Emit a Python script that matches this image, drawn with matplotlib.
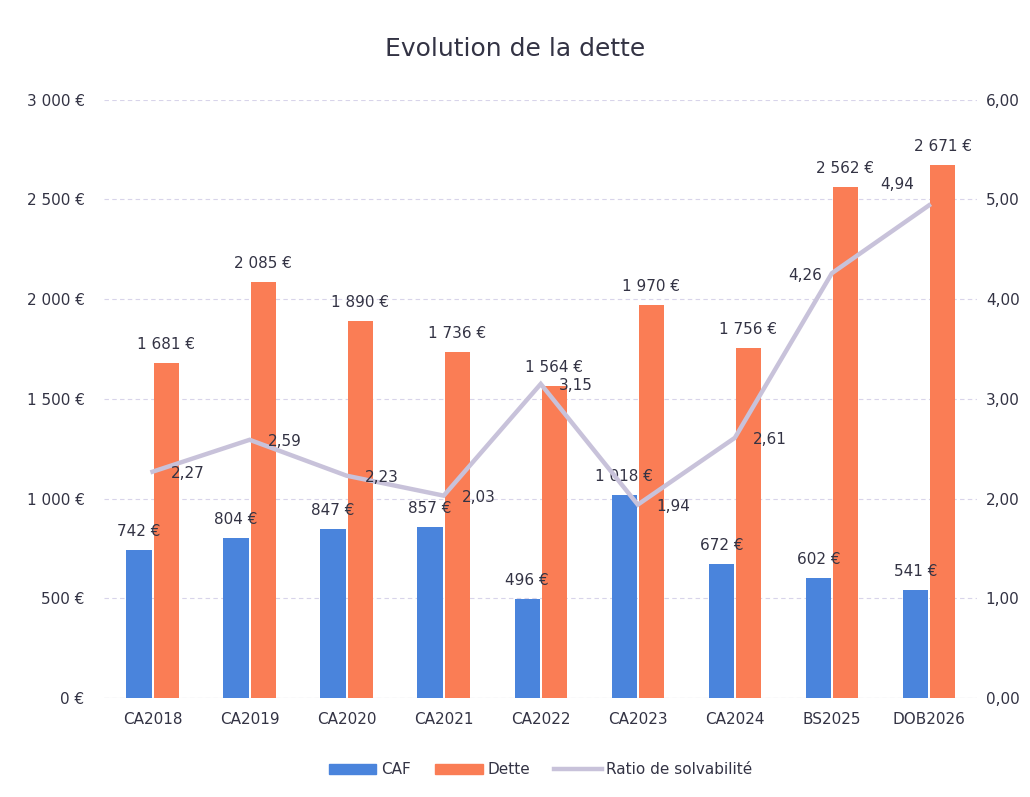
import matplotlib.pyplot as plt
import numpy as np
from matplotlib.lines import Line2D
from matplotlib.patches import Patch

categories = ["CA2018", "CA2019", "CA2020", "CA2021", "CA2022",
              "CA2023", "CA2024", "BS2025", "DOB2026"]
caf = [742, 804, 847, 857, 496, 1018, 672, 602, 541]
dette = [1681, 2085, 1890, 1736, 1564, 1970, 1756, 2562, 2671]
ratio = [2.27, 2.59, 2.23, 2.03, 3.15, 1.94, 2.61, 4.26, 4.94]

blue = "#4a84dc"
orange = "#fa7d55"
lav = "#c8c2da"
txt = "#333344"
fs = 11


def euro(v):
    return f"{v:,}".replace(",", " ") + " €"


def comma(v):
    return f"{v:.2f}".replace(".", ",")


fig = plt.figure(figsize=(10.3, 7.97), dpi=100)
ax = fig.add_axes([0.101, 0.124, 0.848, 0.751])
ax2 = ax.twinx()

x = np.arange(len(categories))
width = 0.26
off = 0.14

ax.bar(x - off, caf, width=width, color=blue, zorder=2)
ax.bar(x + off, dette, width=width, color=orange, zorder=2)
for i in range(len(x)):
    ax.annotate(euro(caf[i]), (x[i] - off, caf[i]), xytext=(0, 8),
                textcoords="offset points", ha="center", va="bottom",
                fontsize=fs, color=txt)
    ax.annotate(euro(dette[i]), (x[i] + off, dette[i]), xytext=(0, 8),
                textcoords="offset points", ha="center", va="bottom",
                fontsize=fs, color=txt)

ax.set_xlim(-0.5, len(x) - 0.5)
ax.set_ylim(0, 3000)
ax.set_yticks(range(0, 3001, 500))
ax.set_yticklabels([euro(v) for v in range(0, 3001, 500)])
ax.set_xticks(x)
ax.set_xticklabels(categories)
ax.grid(axis="y", color="#d8d4ea", linestyle=(0, (4, 3)), linewidth=0.8, zorder=0)
ax.set_axisbelow(True)

ax2.plot(x, ratio, color=lav, linewidth=3.2, zorder=3, solid_joinstyle="miter")
for i in range(len(x)):
    if i == len(x) - 2:
        ax2.annotate(comma(ratio[i]), (x[i], ratio[i]), xytext=(-7, -2),
                     textcoords="offset points", ha="right", va="center",
                     fontsize=fs, color=txt)
    elif i == len(x) - 1:
        ax2.annotate(comma(ratio[i]), (x[i], ratio[i]), xytext=(-11, 15),
                     textcoords="offset points", ha="right", va="center",
                     fontsize=fs, color=txt)
    else:
        ax2.annotate(comma(ratio[i]), (x[i], ratio[i]), xytext=(13, -1),
                     textcoords="offset points", ha="left", va="center",
                     fontsize=fs, color=txt)
ax2.set_ylim(0, 6)
ax2.set_yticks(range(0, 7))
ax2.set_yticklabels([comma(v) for v in range(0, 7)])

for a in (ax, ax2):
    for s in a.spines.values():
        s.set_visible(False)
    a.tick_params(length=0, colors=txt, labelsize=fs)
ax.tick_params(axis="y", pad=14)
ax.tick_params(axis="x", pad=10)
ax2.tick_params(axis="y", pad=6)
ax.axhline(0, color="#d0d0d0", linewidth=0.8, zorder=1)

fig.suptitle("Evolution de la dette", y=0.953, fontsize=18, color="#333344")

handles = [Patch(color=blue), Patch(color=orange),
           Line2D([0], [0], color=lav, linewidth=3.2)]
fig.legend(handles, ["CAF", "Dette", "Ratio de solvabilité"], loc="center",
           bbox_to_anchor=(0.525, 0.034), ncol=3, frameon=False,
           fontsize=fs, labelcolor=txt, handlelength=3.1, handleheight=0.7,
           columnspacing=1.6, handletextpad=0.3)

fig.savefig("out.png", dpi=100, facecolor="white")
